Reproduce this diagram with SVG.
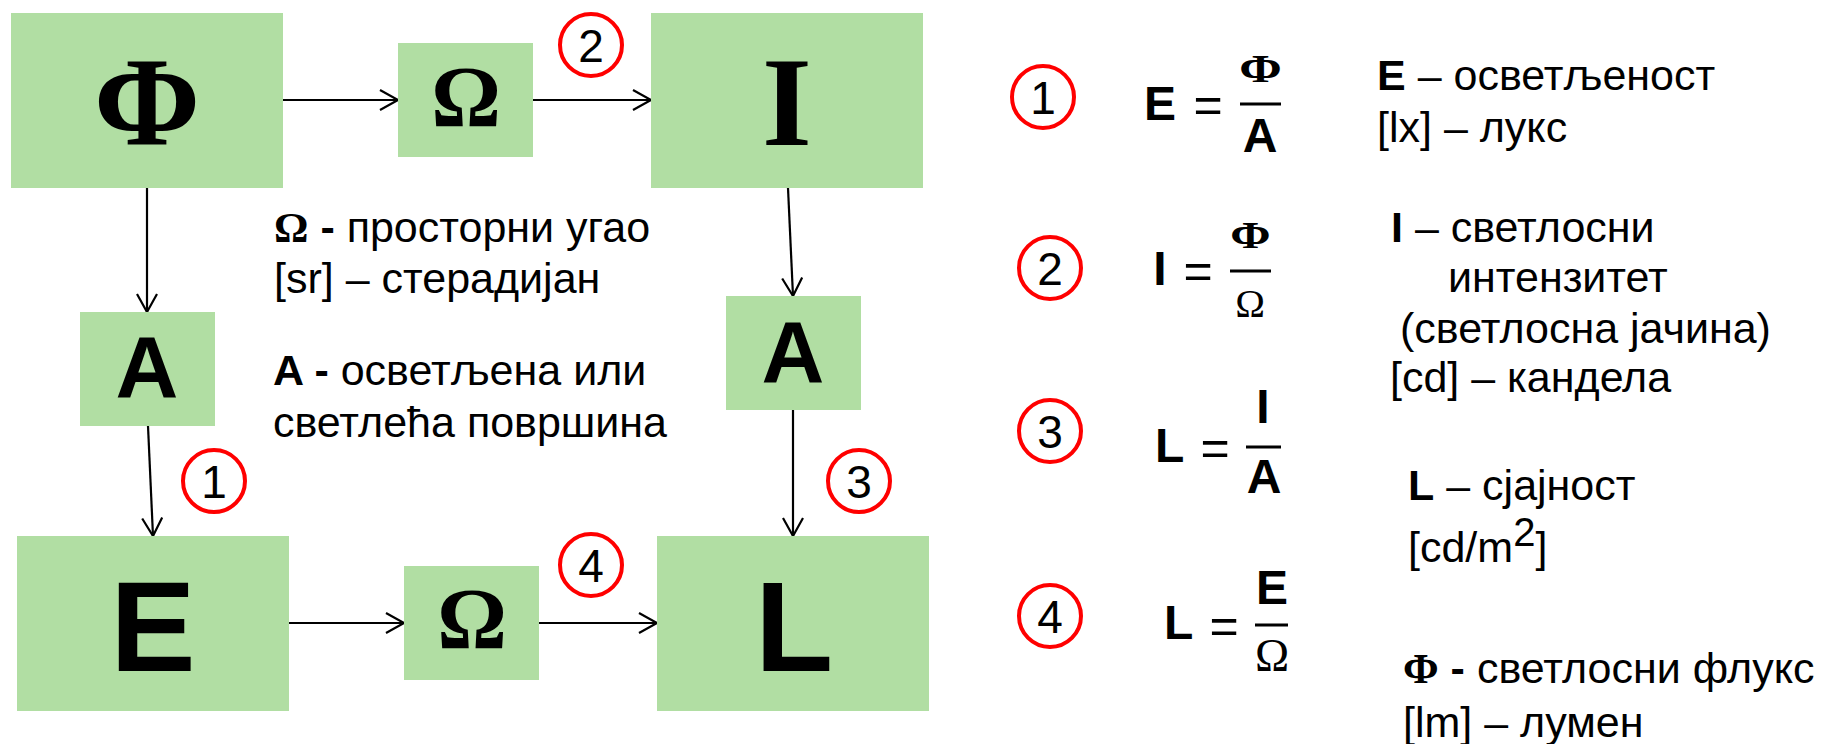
<svg xmlns="http://www.w3.org/2000/svg" width="1824" height="744" viewBox="0 0 1824 744">
<defs>
<marker id="ah" markerWidth="22" markerHeight="24" refX="19" refY="11" orient="auto" markerUnits="userSpaceOnUse">
<path d="M1,1 L19,11 L1,21" fill="none" stroke="#000" stroke-width="2.2"/>
</marker>
</defs>
<style>
.box{fill:#B1DEA3;}
.conn line{stroke:#000;stroke-width:2.2;marker-end:url(#ah);}
.sans{font-family:"Liberation Sans",Arial,sans-serif;fill:#000;}
.serif{font-family:"Liberation Serif","Times New Roman",serif;fill:#000;}
.b{font-weight:bold;}
.big{font-size:128px;text-anchor:middle;}
.mid{font-size:87px;text-anchor:middle;}
.txt{font-family:"Liberation Sans",Arial,sans-serif;font-size:43px;fill:#000;}
.f{font-size:48px;}
.c{text-anchor:middle;}
.circ circle{fill:none;stroke:#FF0000;stroke-width:4;}
.circ text{font-family:"Liberation Sans",Arial,sans-serif;font-size:46px;text-anchor:middle;fill:#000;}
.bar{stroke:#000;stroke-width:3;}
</style>

<g id="connectors" class="conn">
<line x1="283" y1="100" x2="398" y2="100"/>
<line x1="533" y1="100" x2="651" y2="100"/>
<line x1="147" y1="188" x2="147" y2="312"/>
<line x1="148" y1="426" x2="153" y2="536"/>
<line x1="788" y1="188" x2="793" y2="296"/>
<line x1="793" y1="410" x2="793" y2="536"/>
<line x1="289" y1="623" x2="404" y2="623"/>
<line x1="539" y1="623" x2="657" y2="623"/>
</g>

<g id="node-phi">
<rect class="box" x="11" y="13" width="272" height="175"/>
<text class="serif b big" x="147" y="145" font-size="130">Φ</text>
</g>
<g id="node-omega-top">
<rect class="box" x="398" y="43" width="135" height="114"/>
<text class="serif b mid" x="466" y="126">Ω</text>
</g>
<g id="node-I">
<rect class="box" x="651" y="13" width="272" height="175"/>
<text class="serif b big" x="787" y="145" font-size="130">I</text>
</g>
<g id="node-A-left">
<rect class="box" x="80" y="312" width="135" height="114"/>
<text class="sans b mid" x="147" y="397">A</text>
</g>
<g id="node-A-right">
<rect class="box" x="726" y="296" width="135" height="114"/>
<text class="sans b mid" x="793" y="382">A</text>
</g>
<g id="node-E">
<rect class="box" x="17" y="536" width="272" height="175"/>
<text class="sans b big" x="153" y="671">E</text>
</g>
<g id="node-omega-bottom">
<rect class="box" x="404" y="566" width="135" height="114"/>
<text class="serif b mid" x="472" y="648" font-size="84">Ω</text>
</g>
<g id="node-L">
<rect class="box" x="657" y="536" width="272" height="175"/>
<text class="sans b big" x="794" y="671">L</text>
</g>

<g id="badges" class="circ">
<circle cx="591" cy="45" r="31"/><text x="591" y="62">2</text>
<circle cx="214" cy="481" r="31"/><text x="214" y="498">1</text>
<circle cx="859" cy="481" r="31"/><text x="859" y="498">3</text>
<circle cx="591" cy="565" r="31"/><text x="591" y="582">4</text>
<circle cx="1043" cy="97" r="31"/><text x="1043" y="114">1</text>
<circle cx="1050" cy="268" r="31"/><text x="1050" y="285">2</text>
<circle cx="1050" cy="431" r="31"/><text x="1050" y="448">3</text>
<circle cx="1050" cy="616" r="31"/><text x="1050" y="633">4</text>
</g>

<g id="legend-left">
<text class="txt" x="274" y="242"><tspan class="serif b">Ω</tspan><tspan class="b"> -</tspan> просторни угао</text>
<text class="txt" x="274" y="293">[sr] – стерадијан</text>
<text class="txt" x="273" y="385"><tspan class="b">A -</tspan> осветљена или</text>
<text class="txt" x="273" y="437">светлећа површина</text>
</g>

<g id="formula-1">
<text class="sans b f" x="1144" y="120">E</text>
<text class="sans c" x="1208" y="122" font-size="50">=</text>
<line class="bar" x1="1240" y1="104" x2="1281" y2="104"/>
<text class="serif b c" transform="translate(1260.5,82) scale(1.25,1)" x="0" y="0" font-size="41">Φ</text>
<text class="sans b f c" x="1260" y="152">A</text>
</g>
<g id="formula-2">
<text class="sans b f c" x="1160" y="285">I</text>
<text class="sans c" x="1198" y="288" font-size="50">=</text>
<line class="bar" x1="1230" y1="271" x2="1271" y2="271"/>
<text class="serif b c" transform="translate(1250.5,248) scale(1.28,1)" x="0" y="0" font-size="38">Φ</text>
<text class="serif c" x="1250" y="317" font-size="40">Ω</text>
</g>
<g id="formula-3">
<text class="sans b f" x="1155" y="462">L</text>
<text class="sans c" x="1215" y="465" font-size="50">=</text>
<line class="bar" x1="1246" y1="447" x2="1281" y2="447"/>
<text class="sans b f c" x="1263" y="423">I</text>
<text class="sans b f c" x="1264" y="493">A</text>
</g>
<g id="formula-4">
<text class="sans b f" x="1164" y="639">L</text>
<text class="sans c" x="1224" y="643" font-size="50">=</text>
<line class="bar" x1="1255" y1="625" x2="1288" y2="625"/>
<text class="sans b f c" x="1272" y="604">E</text>
<text class="serif c" x="1272" y="671" font-size="46">Ω</text>
</g>

<g id="legend-right">
<text class="txt" x="1377" y="90"><tspan class="b">E</tspan> – осветљеност</text>
<text class="txt" x="1377" y="142">[lx] – лукс</text>
<text class="txt" x="1391" y="242"><tspan class="b">I</tspan> – светлосни</text>
<text class="txt" x="1448" y="292">интензитет</text>
<text class="txt" x="1400" y="343">(светлосна јачина)</text>
<text class="txt" x="1390" y="392">[cd] – кандела</text>
<text class="txt" x="1408" y="500"><tspan class="b">L</tspan> – сјајност</text>
<text class="txt" x="1408" y="562">[cd/m<tspan dy="-16" font-size="40">2</tspan><tspan dy="16">]</tspan></text>
<text class="txt" x="1403" y="683"><tspan class="serif b">Φ</tspan><tspan class="b"> -</tspan> светлосни флукс</text>
<text class="txt" x="1403" y="737">[lm] – лумен</text>
</g>
</svg>
